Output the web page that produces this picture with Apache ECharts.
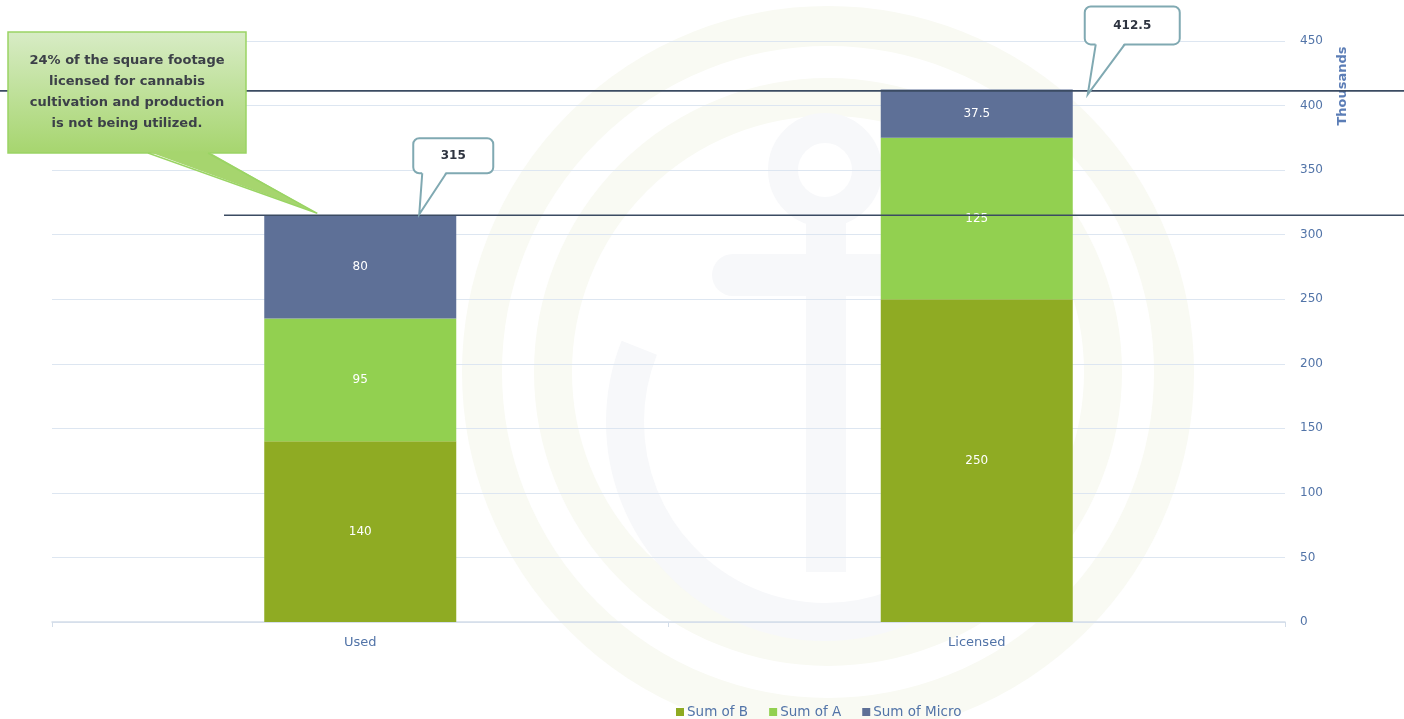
<!DOCTYPE html>
<html>
<head>
<meta charset="utf-8">
<script src="https://cdn.jsdelivr.net/npm/echarts@6/dist/echarts.min.js"></script>
<style>
  html, body { margin: 0; padding: 0; background: #ffffff; }
  #chart { width: 1404px; height: 719px; }
</style>
</head>
<body>
<div id="chart"></div>
<script>
// Square footage (thousands): used vs. licensed, by licence class
const categories = ['Used', 'Licensed'];
const sumB = [140, 250];
const sumA = [95, 125];
const sumMicro = [80, 37.5];
const seriesNames = ['Sum of B', 'Sum of A', 'Sum of Micro'];
const yTicks = { min: 0, max: 450, interval: 50 };
const axisTitle = 'Thousands';
const noteText = '24% of the square footage\nlicensed for cannabis\ncultivation and production\nis not being utilized.';

const totals = categories.map((_, i) => sumB[i] + sumA[i] + sumMicro[i]);

const FONT = '"DejaVu Sans", Verdana, sans-serif';
const AXIS_BLUE = '#5274a8';
const BAR_W = 192;

const chart = echarts.init(document.getElementById('chart'), null, { renderer: 'canvas' });

const segLabel = {
  show: true,
  position: 'inside',
  color: '#ffffff',
  fontFamily: FONT,
  fontSize: 12
};

// faint anchor emblem drawn underneath the grid
const ringColor = '#f9faf3';
const anchorColor = '#f7f8fa';
function renderEmblem() {
  return {
    type: 'group',
    silent: true,
    children: [
      { type: 'circle', shape: { cx: 828, cy: 372, r: 346 },
        style: { fill: 'none', stroke: ringColor, lineWidth: 40 } },
      { type: 'circle', shape: { cx: 828, cy: 372, r: 275 },
        style: { fill: 'none', stroke: ringColor, lineWidth: 38 } },
      { type: 'circle', shape: { cx: 825, cy: 170, r: 42 },
        style: { fill: 'none', stroke: anchorColor, lineWidth: 30 } },
      { type: 'rect', shape: { x: 806, y: 210, width: 40, height: 362 },
        style: { fill: anchorColor } },
      { type: 'rect', shape: { x: 712, y: 254, width: 222, height: 42, r: 21 },
        style: { fill: anchorColor } },
      { type: 'arc',
        shape: { cx: 825, cy: 422, r: 200, startAngle: -0.38, endAngle: Math.PI + 0.38, clockwise: true },
        style: { fill: 'none', stroke: anchorColor, lineWidth: 38 } }
    ]
  };
}

chart.setOption({
  animation: false,
  backgroundColor: '#ffffff',
  grid: { left: 52, right: 119, top: 41, bottom: 97, containLabel: false },
  legend: {
    data: seriesNames,
    left: 671,
    top: 700,
    icon: 'rect',
    itemWidth: 8,
    itemHeight: 8,
    itemGap: 21,
    textStyle: { color: AXIS_BLUE, fontFamily: FONT, fontSize: 13.5, padding: [0, 0, 0, -2] }
  },
  xAxis: {
    type: 'category',
    data: categories,
    axisLine: { lineStyle: { color: '#d3dde9', width: 1.5 } },
    axisTick: { show: true, length: 5, lineStyle: { color: '#d3dde9' } },
    axisLabel: { color: AXIS_BLUE, fontFamily: FONT, fontSize: 13, margin: 14 },
    splitLine: { show: false }
  },
  yAxis: {
    type: 'value',
    position: 'right',
    min: yTicks.min,
    max: yTicks.max,
    interval: yTicks.interval,
    axisLine: { show: false },
    axisTick: { show: false },
    axisLabel: { color: AXIS_BLUE, fontFamily: FONT, fontSize: 12, margin: 15, align: 'left' },
    splitLine: { lineStyle: { color: '#dde6f1', width: 1.2 } }
  },
  series: [
    { type: 'custom', name: 'emblem', coordinateSystem: 'none', silent: true, z: -5,
      data: [0], renderItem: renderEmblem, tooltip: { show: false } },
    { name: seriesNames[0], type: 'bar', stack: 'total', barWidth: BAR_W, data: sumB,
      itemStyle: { color: '#8fab23' }, label: segLabel },
    { name: seriesNames[1], type: 'bar', stack: 'total', barWidth: BAR_W, data: sumA,
      itemStyle: { color: '#92d050' }, label: segLabel },
    { name: seriesNames[2], type: 'bar', stack: 'total', barWidth: BAR_W, data: sumMicro,
      itemStyle: { color: '#5e7097' }, label: segLabel }
  ]
});

// Overlays positioned from the axis scales
function px(catIndex, value) {
  return chart.convertToPixel({ gridIndex: 0 }, [catIndex, value]);
}

const used = px(0, totals[0]);
const lic = px(1, totals[1]);
const W = chart.getWidth();

const graphics = [];

// reference lines at each bar total
graphics.push(
  { type: 'line', z: 50, silent: true,
    shape: { x1: 224, y1: used[1], x2: W, y2: used[1] },
    style: { stroke: '#3b4b62', lineWidth: 1.6 } },
  { type: 'line', z: 50, silent: true,
    shape: { x1: 0, y1: lic[1] + 1.5, x2: W, y2: lic[1] + 1.5 },
    style: { stroke: '#3b4b62', lineWidth: 1.6 } }
);

// speech-bubble callout: rounded box plus a tail pointing at the tip
function bubble(box, tailBase, tip, text, opts) {
  const stroke = opts.stroke, fill = opts.fill;
  const items = [];
  items.push({ type: 'rect', z: 60, silent: true,
    shape: { x: box.x, y: box.y, width: box.w, height: box.h, r: opts.r || 0 },
    style: { fill: fill, stroke: stroke, lineWidth: opts.lw } });
  const by = box.y + box.h;
  items.push({ type: 'polygon', z: 61, silent: true,
    shape: { points: [[tailBase[0], by - opts.lw], [tailBase[1], by - opts.lw], tip] },
    style: { fill: opts.tailFill || fill } });
  items.push({ type: 'polyline', z: 62, silent: true,
    shape: { points: [[tailBase[0], by], tip, [tailBase[1], by]] },
    style: { stroke: stroke, lineWidth: opts.lw, fill: 'none' } });
  items.push({ type: 'text', z: 63, silent: true,
    style: { text: text, x: box.x + box.w / 2, y: box.y + box.h / 2,
      textAlign: 'center', textVerticalAlign: 'middle',
      fill: opts.color, fontFamily: FONT, fontSize: opts.fontSize,
      fontWeight: 'bold', lineHeight: opts.lineHeight || 16 } });
  return items;
}

// total for "Used"
{
  const tip = [used[0] + BAR_W / 2 - 37, used[1] - 1];
  const box = { x: tip[0] - 6, y: tip[1] - 76, w: 80, h: 35 };
  graphics.push(...bubble(box, [tip[0] + 3, tip[0] + 27], tip, String(totals[0]),
    { stroke: '#80a9b2', fill: '#ffffff', lw: 2, r: 6, color: '#2e3440', fontSize: 12 }));
}

// total for "Licensed"
{
  const tip = [lic[0] + BAR_W / 2 + 15, lic[1] + 5];
  const box = { x: tip[0] - 3, y: tip[1] - 88, w: 95, h: 38 };
  graphics.push(...bubble(box, [tip[0] + 8, tip[0] + 37], tip, String(totals[1]),
    { stroke: '#80a9b2', fill: '#ffffff', lw: 2, r: 6, color: '#2e3440', fontSize: 12 }));
}

// unused-capacity note
{
  const tip = [used[0] - 43, used[1] - 2];
  const box = { x: 8, y: 32, w: 238, h: 121 };
  graphics.push(...bubble(box, [148, 208], tip, noteText, {
    stroke: '#9ad464',
    fill: new echarts.graphic.LinearGradient(0, 0, 0, 1, [
      { offset: 0, color: '#d8ecc6' },
      { offset: 1, color: '#a6d56e' }
    ]),
    tailFill: '#a6d56e',
    lw: 1.5, r: 0, color: '#3c4048', fontSize: 13, lineHeight: 21
  }));
}

// value-axis title, rotated
graphics.push({ type: 'text', z: 40, silent: true,
  x: 1343, y: 86, rotation: Math.PI / 2,
  style: { text: axisTitle, x: 0, y: 0, textAlign: 'center', textVerticalAlign: 'middle',
    fill: '#5b7db6', fontFamily: FONT, fontSize: 13, fontWeight: 'bold' } });

chart.setOption({ graphic: graphics });
</script>
</body>
</html>
